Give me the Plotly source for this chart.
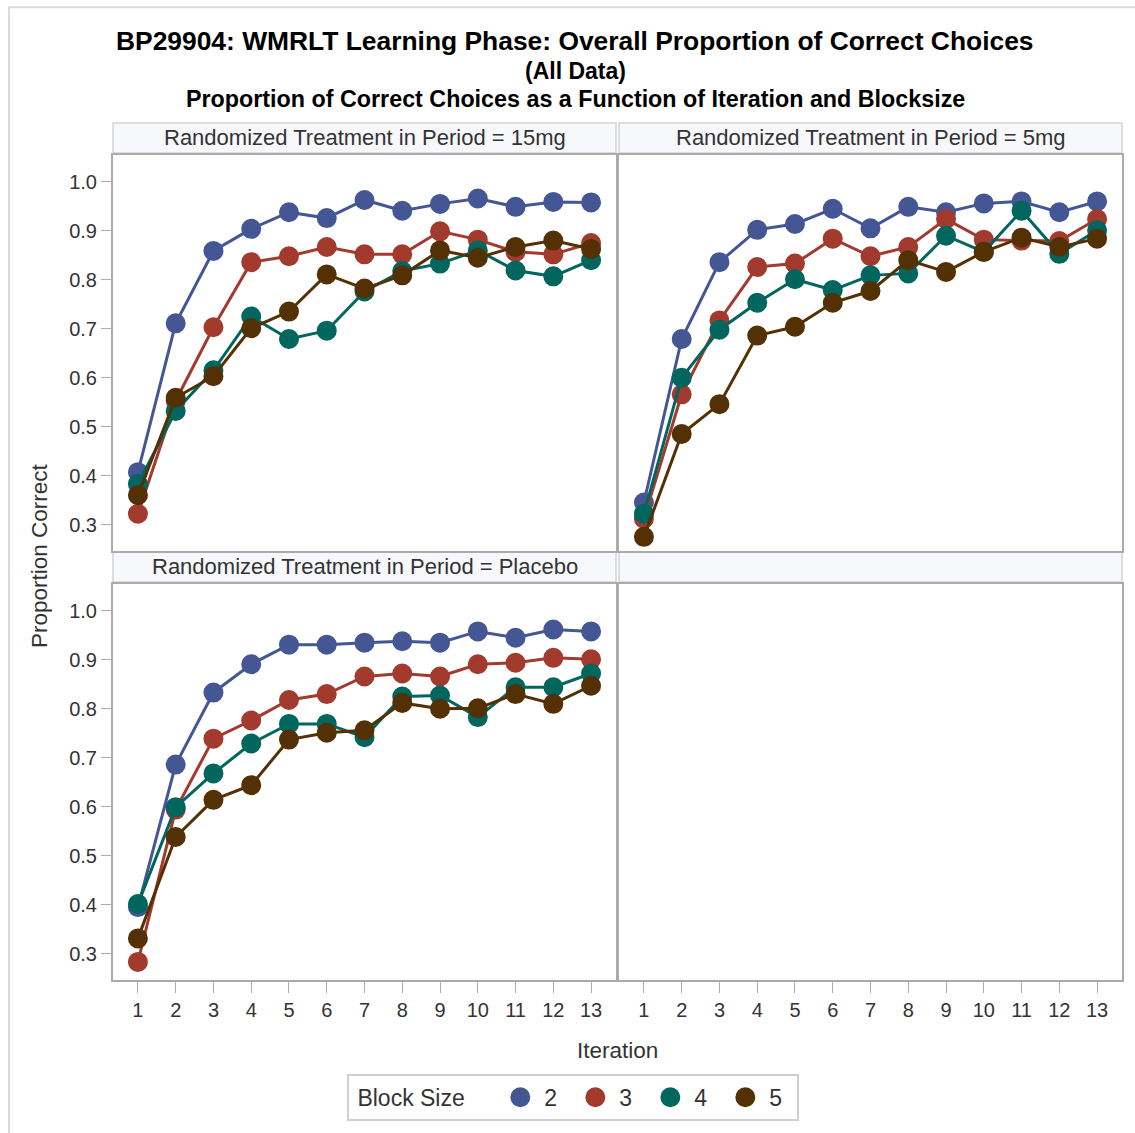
import plotly.graph_objects as go

# ---------------- data ----------------
iterations = list(range(1, 14))
block_sizes = ["2", "3", "4", "5"]
panel_labels = ["15mg", "5mg", "Placebo"]
y_ticks = [0.3, 0.4, 0.5, 0.6, 0.7, 0.8, 0.9, 1.0]

p15_bs2 = [0.407, 0.711, 0.859, 0.904, 0.938, 0.926, 0.963, 0.941, 0.955, 0.966, 0.949, 0.959, 0.958]
p15_bs3 = [0.322, 0.553, 0.703, 0.836, 0.848, 0.867, 0.852, 0.852, 0.899, 0.882, 0.857, 0.852, 0.875]
p15_bs4 = [0.383, 0.532, 0.615, 0.725, 0.679, 0.696, 0.776, 0.818, 0.833, 0.860, 0.819, 0.807, 0.840]
p15_bs5 = [0.360, 0.559, 0.603, 0.701, 0.735, 0.811, 0.782, 0.809, 0.860, 0.845, 0.867, 0.880, 0.863]

p5_bs2 = [0.345, 0.679, 0.836, 0.902, 0.914, 0.945, 0.905, 0.949, 0.938, 0.956, 0.960, 0.938, 0.960]
p5_bs3 = [0.312, 0.566, 0.717, 0.826, 0.833, 0.884, 0.848, 0.867, 0.924, 0.882, 0.880, 0.879, 0.924]
p5_bs4 = [0.322, 0.600, 0.698, 0.753, 0.801, 0.779, 0.809, 0.813, 0.890, 0.857, 0.941, 0.853, 0.901]
p5_bs5 = [0.275, 0.485, 0.546, 0.686, 0.704, 0.753, 0.777, 0.840, 0.816, 0.857, 0.886, 0.867, 0.884]

pl_bs2 = [0.395, 0.686, 0.833, 0.891, 0.931, 0.931, 0.935, 0.938, 0.935, 0.958, 0.945, 0.962, 0.958]
pl_bs3 = [0.283, 0.594, 0.739, 0.776, 0.818, 0.830, 0.866, 0.872, 0.866, 0.891, 0.894, 0.904, 0.901]
pl_bs4 = [0.401, 0.599, 0.668, 0.729, 0.769, 0.769, 0.742, 0.825, 0.827, 0.783, 0.844, 0.844, 0.872]
pl_bs5 = [0.331, 0.538, 0.614, 0.644, 0.737, 0.751, 0.756, 0.812, 0.800, 0.801, 0.830, 0.810, 0.847]

panel_series = [
    [p15_bs2, p15_bs3, p15_bs4, p15_bs5],
    [p5_bs2, p5_bs3, p5_bs4, p5_bs5],
    [pl_bs2, pl_bs3, pl_bs4, pl_bs5],
]

colors = ["#445694", "#A23A2E", "#01665E", "#543005"]
FONT = "Liberation Sans, Arial, sans-serif"

# ---------------- geometry (pixels -> paper) ----------------
W, H = 1135, 1133
ML, MR, MT, MB = 113, 13, 123, 151
PW = W - ML - MR
PH = H - MT - MB

def px(x):
    return (x - ML) / PW

def py(y):
    return (H - MB - y) / PH

xl = [px(113), px(616)]
xr = [px(619), px(1122)]
y_top = [py(552), py(155)]
y_bot = [py(982), py(585)]
hdr_top = (py(153), py(123))
hdr_bot = (py(583), py(553))

xrange_ = [0.34, 13.66]
yrange_ = [0.246, 1.055]

fig = go.Figure()

axis_pairs = [("x", "y"), ("x2", "y2"), ("x3", "y3")]
for p, (xa, ya) in enumerate(axis_pairs):
    for i, bs in enumerate(block_sizes):
        vals = panel_series[p][i]
        fig.add_trace(go.Scatter(
            x=iterations, y=vals, mode="lines",
            line=dict(color=colors[i], width=3),
            xaxis=xa, yaxis=ya, showlegend=False, hoverinfo="skip",
        ))
        fig.add_trace(go.Scatter(
            x=iterations, y=vals, mode="markers",
            marker=dict(color=colors[i], size=15, line=dict(color=colors[i], width=5)),
            xaxis=xa, yaxis=ya, name=bs, legendgroup=bs,
            showlegend=(p == 0),
        ))

fig.add_trace(go.Scatter(x=[], y=[], xaxis="x4", yaxis="y4", showlegend=False))

frame = dict(showline=True, mirror=True, linecolor="#ABABAB", linewidth=2,
             showgrid=False, zeroline=False)
tickfont = dict(family=FONT, size=20, color="#333333")

xbase = dict(range=xrange_, **frame)
xticks = dict(tickmode="array", tickvals=iterations, ticktext=[str(v) for v in iterations],
              ticks="outside", ticklen=11, tickcolor="#ABABAB", tickwidth=1,
              tickfont=tickfont, showticklabels=True)
ybase = dict(range=yrange_, **frame)
yticks = dict(tickmode="array", tickvals=y_ticks, ticktext=[f"{v:.1f}" for v in y_ticks],
              ticks="outside", ticklen=10, tickcolor="#ABABAB", tickwidth=1,
              tickfont=tickfont, showticklabels=True)

fig.update_layout(
    xaxis=dict(domain=xl, anchor="y", showticklabels=False, ticks="", **xbase),
    yaxis=dict(domain=y_top, anchor="x", **ybase, **yticks),
    xaxis2=dict(domain=xr, anchor="y2", showticklabels=False, ticks="", **xbase),
    yaxis2=dict(domain=y_top, anchor="x2", showticklabels=False, ticks="", **ybase),
    xaxis3=dict(domain=xl, anchor="y3", **xbase, **xticks),
    yaxis3=dict(domain=y_bot, anchor="x3", **ybase, **yticks),
    xaxis4=dict(domain=xr, anchor="y4", **xbase, **xticks),
    yaxis4=dict(domain=y_bot, anchor="x4", showticklabels=False, ticks="", **ybase),
)

# header strips
shapes = []
for (x0, x1) in (xl, xr):
    for (y0, y1) in (hdr_top, hdr_bot):
        shapes.append(dict(type="rect", xref="paper", yref="paper",
                           x0=x0, x1=x1, y0=y0, y1=y1,
                           fillcolor="#F7F8FC", line=dict(color="#D4D4D4", width=1.5),
                           layer="below"))
# outer image frame
shapes.append(dict(type="rect", xref="paper", yref="paper",
                   x0=px(9), x1=px(1150), y0=py(1150), y1=py(7),
                   fillcolor="rgba(0,0,0,0)", line=dict(color="#DADADA", width=2)))

annotations = []
hdr_font = dict(family=FONT, size=22, color="#333333")
annotations.append(dict(text="Randomized Treatment in Period = " + panel_labels[0],
                        x=(xl[0] + xl[1]) / 2, y=(hdr_top[0] + hdr_top[1]) / 2,
                        xref="paper", yref="paper", showarrow=False, font=hdr_font,
                        xanchor="center", yanchor="middle"))
annotations.append(dict(text="Randomized Treatment in Period = " + panel_labels[1],
                        x=(xr[0] + xr[1]) / 2, y=(hdr_top[0] + hdr_top[1]) / 2,
                        xref="paper", yref="paper", showarrow=False, font=hdr_font,
                        xanchor="center", yanchor="middle"))
annotations.append(dict(text="Randomized Treatment in Period = " + panel_labels[2],
                        x=(xl[0] + xl[1]) / 2, y=(hdr_bot[0] + hdr_bot[1]) / 2,
                        xref="paper", yref="paper", showarrow=False, font=hdr_font,
                        xanchor="center", yanchor="middle"))

# titles
title_lines = [
    ("BP29904: WMRLT Learning Phase: Overall Proportion of Correct Choices", 41, 26.4),
    ("(All Data)", 71, 23),
    ("Proportion of Correct Choices as a Function of Iteration and Blocksize", 99, 23.3),
]
for txt, yy, fs in title_lines:
    annotations.append(dict(text="<b>" + txt + "</b>", x=px(575), y=py(yy),
                            xref="paper", yref="paper", showarrow=False,
                            font=dict(family=FONT, size=fs, color="#000000"),
                            xanchor="center", yanchor="middle"))

# axis titles
annotations.append(dict(text="Iteration", x=px(617), y=py(1053), xref="paper", yref="paper",
                        showarrow=False, font=dict(family=FONT, size=22.5, color="#333333"),
                        xanchor="center", yanchor="middle"))
annotations.append(dict(text="Proportion Correct", x=px(40), y=py(557), xref="paper", yref="paper",
                        showarrow=False, textangle=-90,
                        font=dict(family=FONT, size=22.5, color="#333333"),
                        xanchor="center", yanchor="middle"))

fig.update_layout(
    width=W, height=H,
    margin=dict(l=ML, r=MR, t=MT, b=MB, pad=0),
    paper_bgcolor="white", plot_bgcolor="white",
    font=dict(family=FONT, color="#333333"),
    shapes=shapes, annotations=annotations,
    legend=dict(orientation="h", x=px(573), y=py(1076), xanchor="center", yanchor="top",
                xref="paper", yref="paper",
                title=dict(text="\u00a0Block Size\u00a0\u00a0\u00a0\u00a0",
                           side="left", font=dict(family=FONT, size=23, color="#333333")),
                font=dict(family=FONT, size=23, color="#333333"),
                bordercolor="#CFCFCF", borderwidth=2, bgcolor="white",
                itemwidth=38, entrywidth=22, entrywidthmode="pixels", itemsizing="trace"),
    showlegend=True,
)

fig.write_html("out.html", config={"displayModeBar": False},
               post_script="document.body.style.margin='0px';")
